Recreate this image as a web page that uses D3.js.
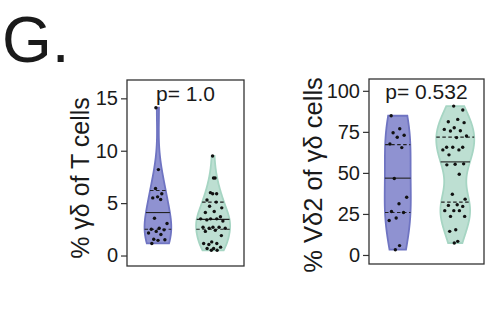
<!DOCTYPE html>
<html><head><meta charset="utf-8">
<script src="https://cdn.jsdelivr.net/npm/d3@7"></script>
<style>body{margin:0;background:#fff}svg{display:block}text{font-family:"Liberation Sans",Arial,sans-serif;fill:#1a1a1a}</style>
</head><body><svg id="c" width="488" height="328"></svg>
<script>
// ---------- data ----------
const groups = ["A", "B"];
const p1Blue = [14.1, 8.2, 6.4, 5.9, 5.6, 5.5, 5.35, 3.55, 3.05, 2.6, 2.5, 2.45, 2.3, 2.15, 2.0, 1.55, 1.5, 1.45, 1.15];
const p1Green = [9.5, 7.4, 7.4, 6.0, 5.9, 5.9, 5.3, 5.1, 4.7, 4.55, 4.2, 4.1, 3.7, 3.5, 3.5, 3.5, 3.4, 3.3, 2.7, 2.7, 2.7, 2.6, 2.6, 2.4, 2.3, 1.9, 1.3, 1.15, 1.15, 1.05, 0.8, 0.67, 0.67, 0.5, 0.5];
const p2Blue = [84.8, 76.9, 74.5, 72.9, 71.7, 67.6, 65.4, 46.6, 35.2, 31.2, 26.5, 25.9, 22.5, 21.0, 5.7, 3.2];
const p2Green = [90.7, 88.3, 82.6, 81.2, 80.6, 77.5, 76.5, 75.7, 75.5, 72.5, 71.5, 65.6, 65.6, 65.6, 64.0, 64.0, 61.0, 55.5, 55.3, 54.9, 49.2, 37.0, 34.0, 30.6, 30.2, 29.6, 27.0, 27.0, 27.0, 23.5, 23.5, 15.4, 14.4, 8.3, 7.3];
const p1Quant = [[2.5, 4.1, 6.2], [2.5, 3.45, 5.1]];
const p2Quant = [[25.9, 46.8, 67.2], [32.2, 56.7, 71.8]];
const p1Ticks = [0, 5, 10, 15];
const p2Ticks = [0, 25, 50, 75, 100];
const p1Title = "% γδ of T cells";
const p2Title = "% Vδ2 of γδ cells";
const p1P = "p= 1.0";
const p2P = "p= 0.532";
const panelLabel = "G.";

// ---------- style ----------
const fills = ["#8f92d1", "#bddfd2"];
const strokes = ["#6f74c2", "#a6d5c3"];

const svg = d3.select("#c");
svg.append("text").attr("x", 2).attr("y", 62).style("font-size", "64px").text(panelLabel);

function kde(values, bw, lo, hi, n) {
  const pts = d3.range(n).map(i => lo + (hi - lo) * i / (n - 1));
  return pts.map(y => [y, d3.mean(values, v => Math.exp(-0.5 * ((y - v) / bw) ** 2)) / (bw * Math.sqrt(2 * Math.PI))]);
}
function nrd0(v) {
  const s = v.slice().sort(d3.ascending);
  const q = (d3.quantile(s, 0.75) - d3.quantile(s, 0.25)) / 1.34;
  return 0.9 * Math.min(d3.deviation(v), q) * Math.pow(v.length, -0.2);
}

function panel(cfg) {
  const g = svg.append("g");
  const y = d3.scaleLinear().domain(cfg.dom).range([cfg.y1, cfg.y0]);
  const x = d3.scalePoint().domain(groups).range([cfg.x0, cfg.x1]).padding(cfg.pad);
  const dens = cfg.data.map((v, i) => kde(v, nrd0(v) * cfg.adjust[i], d3.min(v), d3.max(v), 200));
  const maxD = d3.max(dens, d => d3.max(d, p => p[1]));
  const w = d3.scaleLinear().domain([0, maxD]).range([0, cfg.halfW]);
  cfg.data.forEach((v, i) => {
    const cx = x(groups[i]);
    const area = d3.area().curve(d3.curveLinear)
      .y(p => y(p[0])).x0(p => cx - w(p[1])).x1(p => cx + w(p[1]));
    g.append("path").attr("d", area(dens[i])).attr("fill", fills[i]).attr("stroke", strokes[i]).attr("stroke-width", 1.8);
    const interp = val => {
      const d = dens[i]; let k = d3.bisector(p => p[0]).left(d, val);
      k = Math.max(1, Math.min(d.length - 1, k));
      const a = d[k - 1], b = d[k], t = (val - a[0]) / (b[0] - a[0]);
      return a[1] + (b[1] - a[1]) * t;
    };
    cfg.quant[i].forEach((q, j) => {
      const hw = w(interp(q));
      g.append("line").attr("x1", cx - hw).attr("x2", cx + hw).attr("y1", y(q)).attr("y2", y(q))
        .attr("stroke", "#222").attr("stroke-width", 1.1)
        .attr("stroke-dasharray", j === 1 ? null : "3.5,2.5");
    });
    v.forEach((val, k) => {
      const frac = ((k * 0.6180339887 + i * 0.37) % 1) - 0.5;
      const spread = Math.max(2, w(interp(val)) - 3);
      g.append("circle").attr("cx", cx + frac * 2 * Math.min(spread, 13)).attr("cy", y(val)).attr("r", 1.7).attr("fill", "#111");
    });
  });
  g.append("rect").attr("x", cfg.x0).attr("y", cfg.y0).attr("width", cfg.x1 - cfg.x0).attr("height", cfg.y1 - cfg.y0)
    .attr("fill", "none").attr("stroke", "#333").attr("stroke-width", 1.3);
  const ax = g.append("g").attr("transform", `translate(${cfg.x0},0)`)
    .call(d3.axisLeft(y).tickValues(cfg.ticks).tickSize(6).tickPadding(3).tickFormat(d3.format("d")));
  ax.select(".domain").remove();
  ax.selectAll(".tick line").attr("stroke", "#333").attr("stroke-width", 1.2);
  ax.selectAll(".tick text").style("font-size", "20px").attr("fill", "#1a1a1a").attr("font-family", "Liberation Sans, Arial, sans-serif");
  g.append("text").attr("transform", `translate(${cfg.tx},${cfg.ty}) rotate(-90)`).attr("text-anchor", "middle")
    .style("font-size", cfg.tsize + "px").text(cfg.title);
  g.append("text").attr("x", (cfg.x0 + cfg.x1) / 2).attr("y", cfg.py).attr("text-anchor", "middle")
    .style("font-size", "21px").text(cfg.p);
}

panel({x0: 127, x1: 244, y0: 80, y1: 266, dom: [-1.0, 16.75], pad: 0.56, data: [p1Blue, p1Green], quant: p1Quant,
  adjust: [1.6, 1.2], halfW: 17, ticks: p1Ticks, title: p1Title, tsize: 25, tx: 89, ty: 178, p: p1P, py: 101});
panel({x0: 369, x1: 484, y0: 79, y1: 264, dom: [-5.5, 107.2], pad: 0.5, data: [p2Blue, p2Green], quant: p2Quant,
  adjust: [1.5, 1], halfW: 19, ticks: p2Ticks, title: p2Title, tsize: 25.5, tx: 322, ty: 175, p: p2P, py: 99});
</script></body></html>
